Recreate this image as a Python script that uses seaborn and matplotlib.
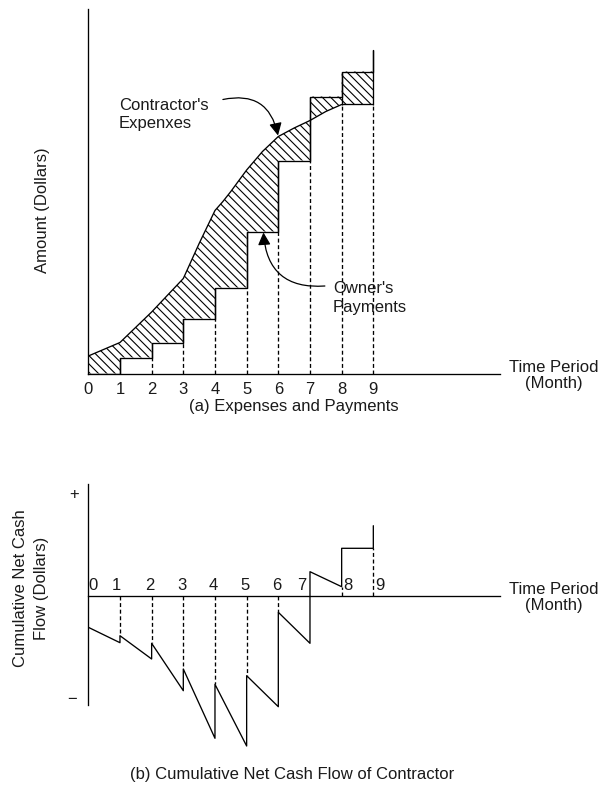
import numpy as np
import matplotlib
matplotlib.use("Agg")
import matplotlib.pyplot as plt
import seaborn as sns

# ---------------- data ----------------
months = list(range(10))
tick_labels = [str(m) for m in months]
# owner's cumulative payment level after the payment made at month k
payment_levels = [0, 16, 31, 55, 86, 142, 213, 277, 302, 324]
# contractor's cumulative expenses
expense_months = [0, 1, 2, 3, 3.5, 4, 4.25, 4.5, 5, 5.5, 6, 6.5, 7, 7.5, 8, 9]
expense_values = [17.5, 31, 61.5, 95, 130, 163, 172, 182, 203.5, 222, 237, 245.5, 253, 262, 269, 269]
# cumulative net cash flow (before / after each payment)
net_months = [0, 1, 1, 2, 2, 3, 3, 4, 4, 5, 5, 6, 6, 7, 7, 8, 8, 9, 9]
net_values = [-31.6, -47, -40, -63.3, -47.6, -95, -73.3, -142.6, -88.6, -150.3,
              -80, -111, -16.6, -47.6, 24, 9, 47.4, 47.4, 70]

# ---------------- style ----------------
sns.set_style("white")
plt.rcParams["font.family"] = ["Liberation Sans", "DejaVu Sans"]
plt.rcParams["font.size"] = 12
plt.rcParams["hatch.linewidth"] = 0.8
INK = "black"
TXT = "#1a1a1a"
FS = 12
LW = 0.95

W, H = 601, 794
fig = plt.figure(figsize=(W / 100, H / 100), dpi=100)


def rect(x0, x1, ytop, ybot):
    return [x0 / W, 1 - ybot / H, (x1 - x0) / W, (ybot - ytop) / H]


def style_axes(ax, ybounds):
    for s in ["top", "right"]:
        ax.spines[s].set_visible(False)
    ax.spines["left"].set_bounds(*ybounds)
    ax.spines["bottom"].set_position(("data", 0))
    ax.spines["bottom"].set_bounds(0, 13)
    for s in ["left", "bottom"]:
        ax.spines[s].set_color(INK)
        ax.spines[s].set_linewidth(LW)
    ax.set_xticks([])
    ax.set_yticks([])
    ax.set_xlabel("")
    ax.set_ylabel("")
    ax.set_xlim(0, 13)


# ---------------- (a) expenses and payments ----------------
ax1 = fig.add_axes(rect(88.3, 500, 9, 373.5))
ax1.set_facecolor("none")
ax1.set_ylim(0, 364.5)

xs = np.linspace(0, 9, 3601)
curve = np.interp(xs, expense_months, expense_values)
idx = np.minimum(np.floor(xs).astype(int), 8)
steps = np.array(payment_levels)[idx]
ax1.fill_between(xs, curve, steps, facecolor="none", edgecolor=INK,
                 hatch="\\\\\\\\", linewidth=0)

sns.lineplot(x=expense_months, y=expense_values, ax=ax1, color=INK, lw=LW,
             estimator=None, sort=False)
sns.lineplot(x=months, y=payment_levels, ax=ax1, color=INK, lw=LW,
             drawstyle="steps-post", estimator=None, sort=False)

for k in months[1:]:
    e_k = float(np.interp(k, expense_months, expense_values))
    lower = min(payment_levels[k - 1], e_k)
    ax1.vlines(k, lower, payment_levels[k], colors=INK, lw=LW)
    if lower > 0:
        ax1.vlines(k, 0, lower, colors=INK, lw=LW, linestyles=(0, (3, 2)))

style_axes(ax1, (0, 364.5))

for m, lab in zip(months, tick_labels):
    ax1.text(m, -20.5, lab, ha="center", va="baseline", fontsize=FS, color=TXT)
ax1.text(14.7, 1.2, "Time Period", ha="center", va="baseline", fontsize=FS, color=TXT)
ax1.text(14.7, -14.8, "(Month)", ha="center", va="baseline", fontsize=FS, color=TXT)

ax1.text(0.97, 263.5, "Contractor's", ha="left", va="baseline", fontsize=FS, color=TXT)
ax1.text(0.97, 245.5, "Expenxes", ha="left", va="baseline", fontsize=FS, color=TXT)
ax1.text(7.72, 80.5, "Owner's", ha="left", va="baseline", fontsize=FS, color=TXT)
ax1.text(7.72, 61.5, "Payments", ha="left", va="baseline", fontsize=FS, color=TXT)

arrow = dict(arrowstyle="-|>,head_length=0.75,head_width=0.38", color=INK, lw=0.9,
             connectionstyle="arc3,rad=-0.5", shrinkA=0, shrinkB=0, mutation_scale=10)
ax1.annotate("", xy=(5.99, 238.0), xytext=(4.25, 274.0), arrowprops=arrow)
ax1.annotate("", xy=(5.53, 141.0), xytext=(7.47, 87.5), arrowprops=arrow)

fig.text(43 / W, 1 - 210 / H, "Amount (Dollars)", rotation=90, ha="center",
         va="center", fontsize=FS, color=TXT)
fig.text(294 / W, 1 - 407 / H, "(a) Expenses and Payments", ha="center",
         va="center", fontsize=FS, color=TXT)

# ---------------- (b) cumulative net cash flow ----------------
ax2 = fig.add_axes(rect(88.3, 500, 480.7, 755.7))
ax2.set_facecolor("none")
ax2.set_ylim(-160, 115)

sns.lineplot(x=net_months, y=net_values, ax=ax2, color=INK, lw=LW,
             estimator=None, sort=False)
for k in months[1:]:
    pre, post = net_values[2 * k - 1], net_values[2 * k]
    if pre * post > 0:
        end = post if abs(post) < abs(pre) else pre
        ax2.vlines(k, 0, end, colors=INK, lw=LW, linestyles=(0, (3, 2)))

style_axes(ax2, (-109.3, 111.7))

label_dx = [0.15, -0.1, -0.05, -0.04, -0.06, -0.05, -0.04, -0.25, 0.2, 0.2]
for m, lab, dx in zip(months, tick_labels, label_dx):
    ax2.text(m + dx, 5.5, lab, ha="center", va="baseline", fontsize=FS, color=TXT)
ax2.text(14.7, 1.7, "Time Period", ha="center", va="baseline", fontsize=FS, color=TXT)
ax2.text(14.7, -14.3, "(Month)", ha="center", va="baseline", fontsize=FS, color=TXT)
ax2.text(-0.45, 100.7, "+", ha="center", va="center", fontsize=FS, color=TXT)
ax2.text(-0.52, -103.3, "\u2212", ha="center", va="center", fontsize=FS, color=TXT)

fig.text(31 / W, 1 - 588 / H, "Cumulative Net Cash\nFlow (Dollars)", rotation=90,
         ha="center", va="center", multialignment="center", linespacing=1.45,
         fontsize=FS, color=TXT)
fig.text(292 / W, 1 - 775 / H, "(b) Cumulative Net Cash Flow of Contractor",
         ha="center", va="center", fontsize=FS, color=TXT)

fig.savefig("out.png", dpi=100, facecolor="white")
